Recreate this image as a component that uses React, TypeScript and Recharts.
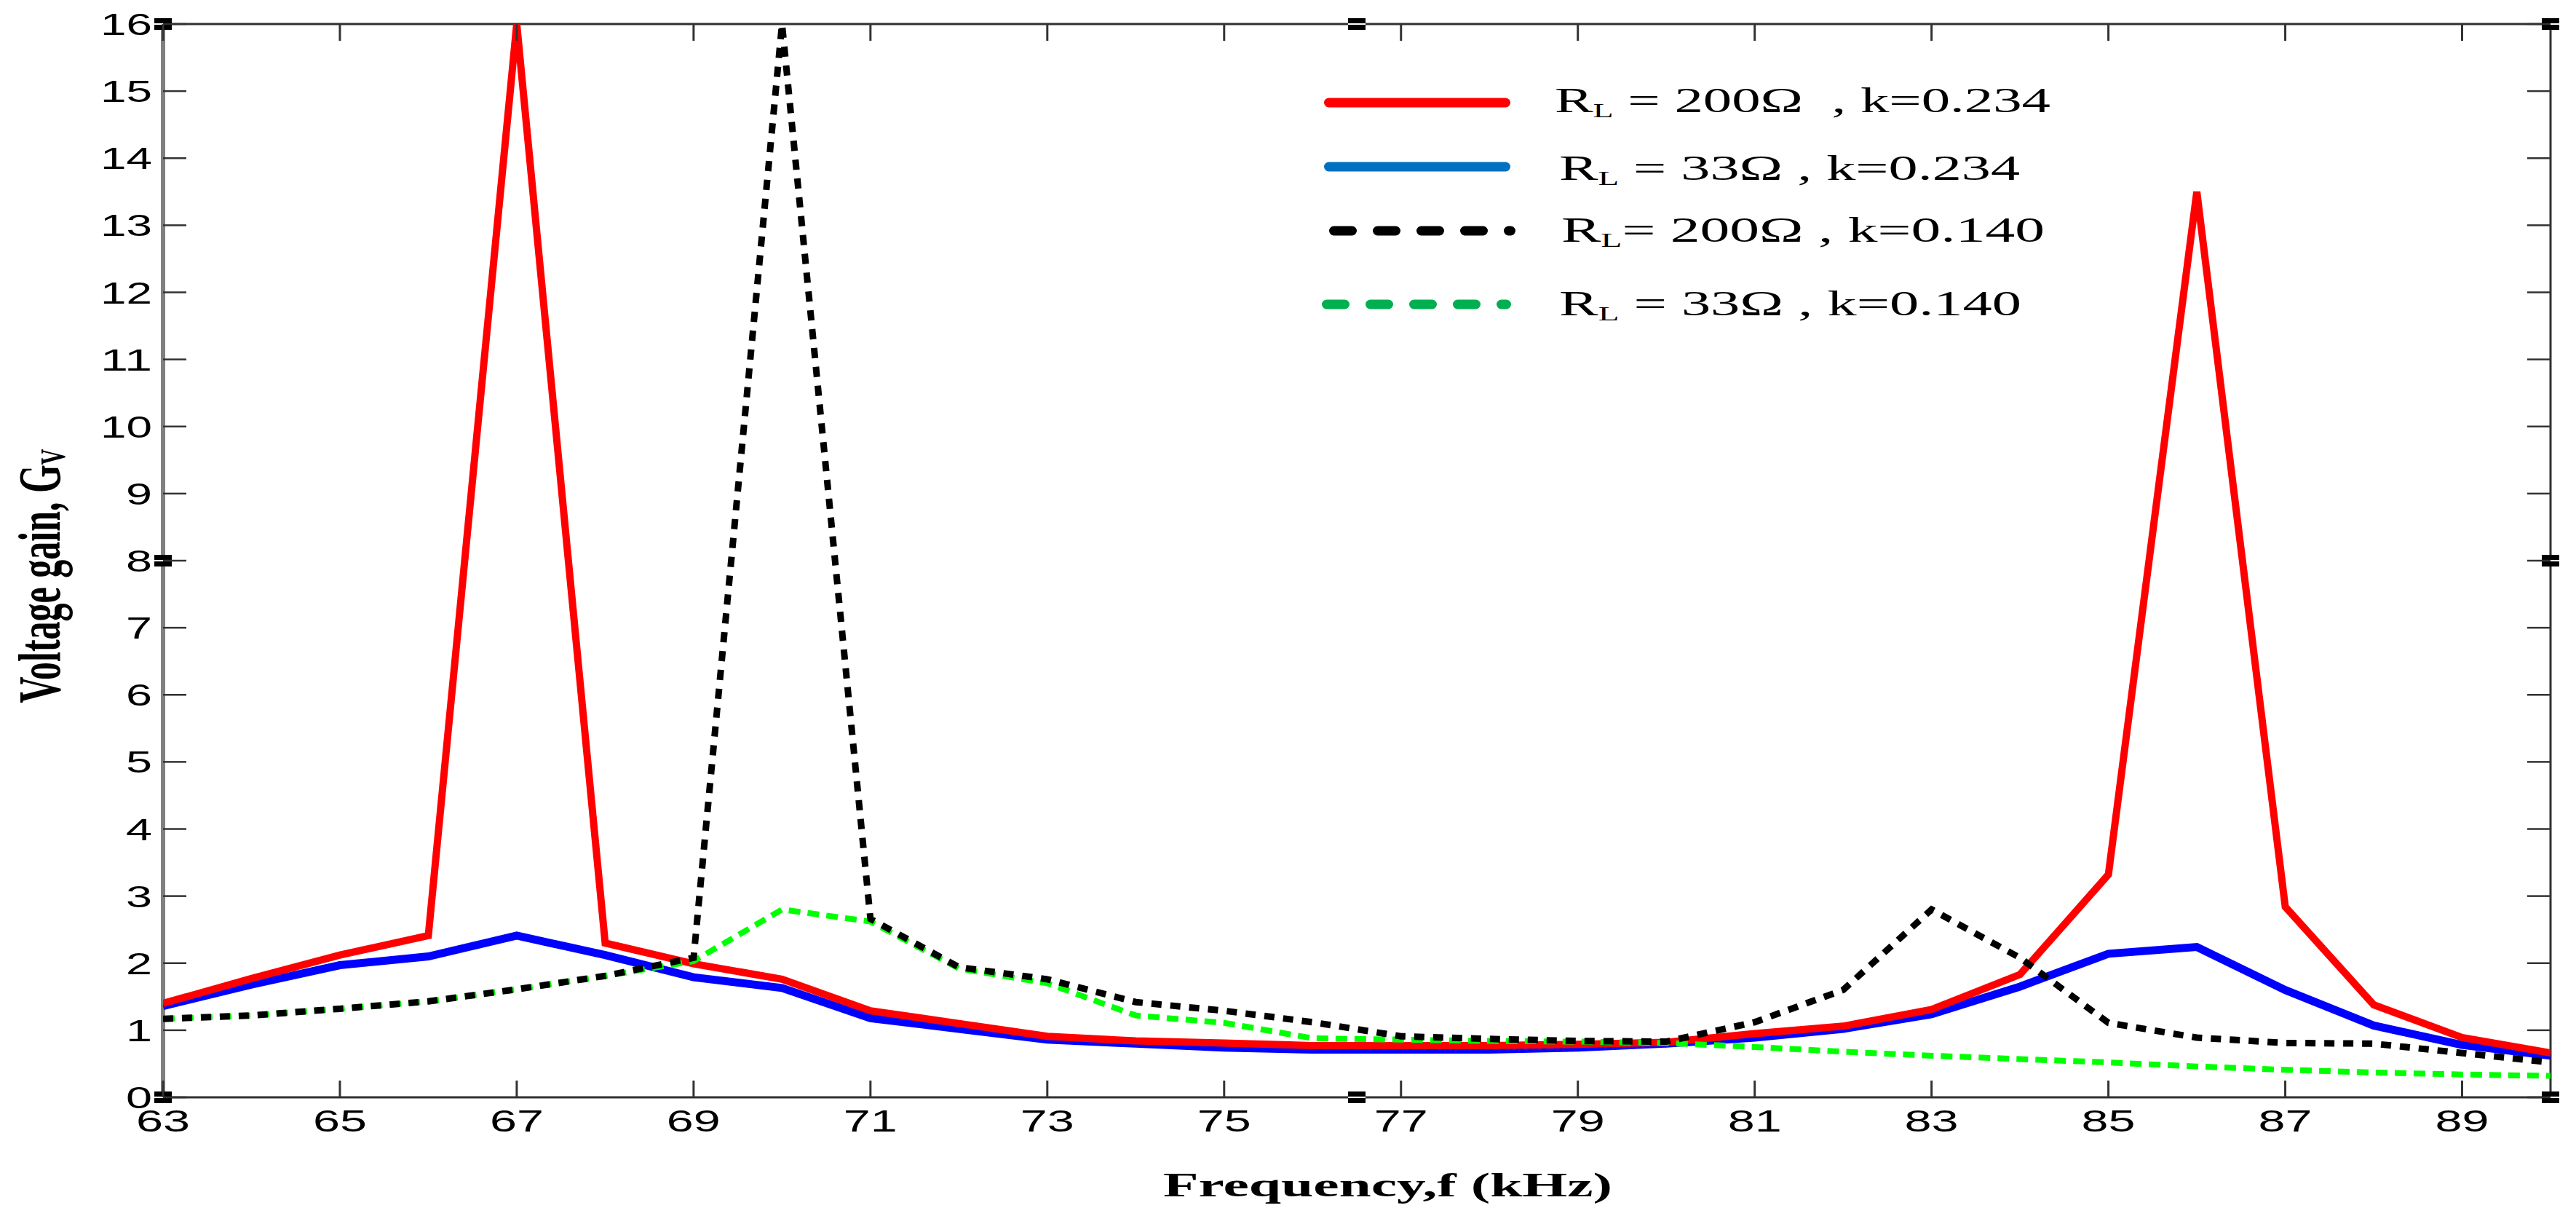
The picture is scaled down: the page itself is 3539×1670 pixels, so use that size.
import React from 'react';
import { LineChart, Line, XAxis, YAxis, ReferenceLine, ReferenceDot, Legend } from 'recharts';

// ---- data ----
const freq = [63, 64, 65, 66, 67, 68, 69, 70, 71, 72, 73, 74, 75, 76, 77, 78, 79, 80, 81, 82, 83, 84, 85, 86, 87, 88, 89, 90];
const gainR200k234 = [1.4, 1.77, 2.12, 2.41, 16, 2.3, 1.99, 1.76, 1.29, 1.1, 0.91, 0.84, 0.81, 0.77, 0.77, 0.77, 0.79, 0.82, 0.95, 1.06, 1.31, 1.83, 3.32, 13.5, 2.84, 1.38, 0.89, 0.66];
const gainR33k234 = [1.36, 1.68, 1.97, 2.1, 2.41, 2.12, 1.79, 1.63, 1.18, 1.02, 0.86, 0.8, 0.74, 0.71, 0.71, 0.71, 0.74, 0.8, 0.89, 1.02, 1.24, 1.65, 2.14, 2.24, 1.6, 1.07, 0.78, 0.62];
const gainR200k140 = [1.17, 1.22, 1.32, 1.43, 1.61, 1.81, 2.08, 16, 2.66, 1.94, 1.76, 1.42, 1.29, 1.12, 0.91, 0.87, 0.84, 0.83, 1.12, 1.6, 2.8, 2.08, 1.11, 0.89, 0.81, 0.8, 0.66, 0.52];
const gainR33k140 = [1.17, 1.22, 1.32, 1.43, 1.61, 1.81, 2.03, 2.8, 2.62, 1.92, 1.7, 1.22, 1.11, 0.88, 0.86, 0.84, 0.83, 0.81, 0.75, 0.68, 0.62, 0.57, 0.52, 0.46, 0.41, 0.37, 0.34, 0.32];

const xTicks = [63, 65, 67, 69, 71, 73, 75, 77, 79, 81, 83, 85, 87, 89];
const yTicks = [0, 1, 2, 3, 4, 5, 6, 7, 8, 9, 10, 11, 12, 13, 14, 15, 16];
const handleXs = [63, 76.5, 90];
const handleYs = [0, 8, 16];

const legendR = ['R', 'R', 'R', 'R'];
const legendSub = ['L', 'L', 'L', 'L'];
const legendRest = [' = 200Ω  , k=0.234', ' = 33Ω , k=0.234', '= 200Ω , k=0.140', ' = 33Ω , k=0.140'];
const legendColors = ['#FF0000', '#0070C0', '#000000', '#00B050'];
const legendDashed = [false, false, true, true];

const data = freq.map((f, i) => ({
  f,
  r200k234: gainR200k234[i],
  r33k234: gainR33k234[i],
  r200k140: gainR200k140[i],
  r33k140: gainR33k140[i],
}));

// ---- layout ----
const W = 3523;
const H = 1654;
const PLOT_LEFT = 216;
const PLOT_TOP = 25;
const PLOT_RIGHT = 3496;
const PLOT_BOTTOM = 1499;

const SANS = '"Liberation Sans", Arial, sans-serif';
const SERIF = '"Liberation Serif", "Times New Roman", serif';

const XTick = (props: any) => {
  const x = props.x;
  const v = props.payload?.value;
  return (
    <g>
      <line x1={x} y1={PLOT_BOTTOM} x2={x} y2={PLOT_BOTTOM - 23} stroke="#333" strokeWidth={3} />
      <line x1={x} y1={PLOT_TOP} x2={x} y2={PLOT_TOP + 23} stroke="#333" strokeWidth={3} />
      <text x={x} y={1546} textAnchor="middle" fontFamily={SANS} fontSize={43} fill="#000"
        textLength={74} lengthAdjust="spacingAndGlyphs">{String(v)}</text>
    </g>
  );
};

const YTick = (props: any) => {
  const y = props.y;
  const v = props.payload?.value;
  const s = String(v);
  return (
    <g>
      <line x1={PLOT_LEFT} y1={y} x2={PLOT_LEFT + 32} y2={y} stroke="#333" strokeWidth={2.5} />
      <line x1={PLOT_RIGHT} y1={y} x2={PLOT_RIGHT - 32} y2={y} stroke="#333" strokeWidth={2.5} />
      <text x={201} y={y + 15} textAnchor="end" fontFamily={SANS} fontSize={43} fill="#000"
        textLength={s.length > 1 ? 71 : 36} lengthAdjust="spacingAndGlyphs">{s}</text>
    </g>
  );
};

const XLabel = () => (
  <text x={1590} y={1635} fontFamily={SERIF} fontWeight="bold" fontSize={47} fill="#000"
    textLength={617} lengthAdjust="spacingAndGlyphs">Frequency,f (kHz)</text>
);

const YLabel = () => (
  <text transform="translate(74, 783) scale(1.65, 1) rotate(-90)" textAnchor="middle"
    fontFamily={SERIF} fontWeight="bold" fontSize={50} fill="#000">
    Voltage gain, G<tspan fontSize={30} dy={4}>V</tspan>
  </text>
);

const Handle = (props: any) => {
  const { cx, cy } = props;
  return (
    <g>
      <rect x={cx - 12} y={cy - 8} width={24} height={16} fill="#000" />
      <rect x={cx - 12} y={cy - 1} width={24} height={2} fill="#fff" />
    </g>
  );
};

const LEG_LEFT = 1780;
const LEG_TOP = 80;
const legLineY = [133, 221, 309, 410];
const legLineX = [[1811, 2067], [1811, 2067], [1818, 2074], [1808, 2068]];
const legTextX = [2128, 2134, 2137, 2134];
const legTextY = [146, 239, 324, 425];
const legTextW = [681, 633, 664, 635];

const LegendContent = () => (
  <svg width={1100} height={420} style={{ display: 'block' }}>
    <g transform={`translate(${-LEG_LEFT}, ${-LEG_TOP})`}>
      {legendColors.map((c, i) => (
        <g key={i}>
          <line
            x1={legLineX[i][0] + 6.5}
            x2={legLineX[i][1] - 6.5}
            y1={legLineY[i]}
            y2={legLineY[i]}
            stroke={c}
            strokeWidth={13}
            strokeLinecap="round"
            strokeDasharray={legendDashed[i] ? '25 35' : undefined}
          />
          <text x={legTextX[i]} y={legTextY[i]} fontFamily={SERIF} fontSize={48} fill="#000"
            textLength={legTextW[i]} lengthAdjust="spacingAndGlyphs" style={{ whiteSpace: 'pre' }}>
            {legendR[i]}<tspan fontSize={28} dy={7}>{legendSub[i]}</tspan><tspan dy={-7}>{legendRest[i]}</tspan>
          </text>
        </g>
      ))}
    </g>
  </svg>
);

export default function App() {
  return (
    <div style={{ width: W, height: H, background: '#fff' }}>
      <LineChart width={W} height={H} data={data}
        margin={{ top: PLOT_TOP, right: W - PLOT_RIGHT, bottom: 0, left: 0 }}>
        <XAxis dataKey="f" type="number" domain={[63, 90]} ticks={xTicks} interval={0}
          height={H - PLOT_BOTTOM} axisLine={false} tickLine={false} tick={<XTick />}
          allowDataOverflow label={<XLabel />} />
        <YAxis type="number" domain={[0, 16]} ticks={yTicks} interval={0} width={PLOT_LEFT}
          axisLine={false} tickLine={false} tick={<YTick />} allowDataOverflow label={<YLabel />} />
        <ReferenceLine x={63} stroke="#808080" strokeWidth={6} />
        <ReferenceLine x={90} stroke="#303030" strokeWidth={3} />
        <ReferenceLine y={0} stroke="#303030" strokeWidth={3} />
        <ReferenceLine y={16} stroke="#303030" strokeWidth={3} />
        <Line type="linear" dataKey="r33k234" stroke="#0000FF" strokeWidth={11} dot={false} isAnimationActive={false} />
        <Line type="linear" dataKey="r200k234" stroke="#FF0000" strokeWidth={10} dot={false} isAnimationActive={false} />
        <Line type="linear" dataKey="r33k140" stroke="#00FF00" strokeWidth={8} strokeDasharray="16 10" dot={false} isAnimationActive={false} />
        <Line type="linear" dataKey="r200k140" stroke="#000000" strokeWidth={9} strokeDasharray="14 12" dot={false} isAnimationActive={false} />
        {handleXs.flatMap((hx) =>
          handleYs
            .filter((hy) => hx !== 76.5 || hy !== 8)
            .map((hy) => (
              <ReferenceDot key={`${hx}-${hy}`} x={hx} y={hy} r={8} ifOverflow="visible" shape={<Handle />} />
            ))
        )}
        <Legend layout="vertical" align="center" verticalAlign="middle" content={<LegendContent />}
          wrapperStyle={{ position: 'absolute', left: LEG_LEFT, top: LEG_TOP, width: 1100, height: 420 }} />
      </LineChart>
    </div>
  );
}
